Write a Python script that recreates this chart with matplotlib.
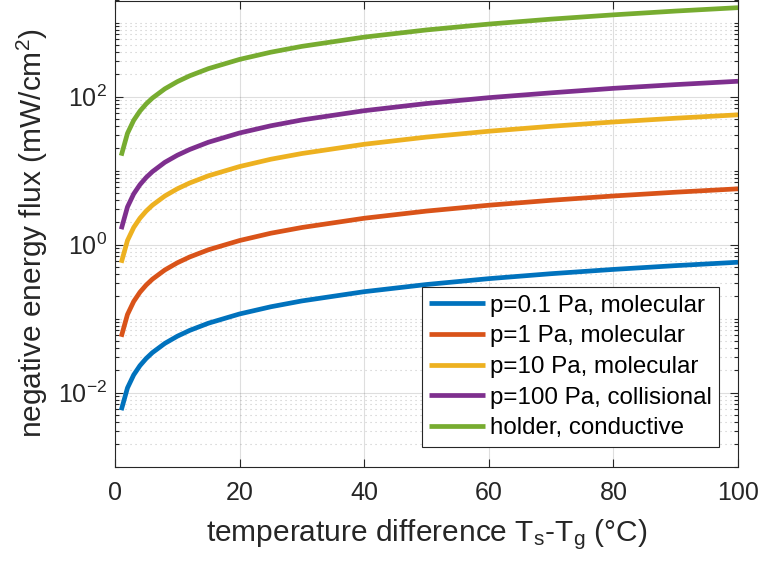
import numpy as np
import matplotlib
matplotlib.use('Agg')
import matplotlib.pyplot as plt
from matplotlib.ticker import FixedLocator, NullFormatter

plt.rcParams['font.family'] = ['Liberation Sans', 'DejaVu Sans']
plt.rcParams['mathtext.fontset'] = 'custom'
plt.rcParams['mathtext.rm'] = 'Liberation Sans'
plt.rcParams['mathtext.it'] = 'Liberation Sans:italic'
plt.rcParams['mathtext.default'] = 'regular'

# temperature difference Ts-Tg (°C)
dT = [1, 2, 3, 4, 5, 6, 8, 10, 12, 15, 20, 25, 30, 40, 50, 60, 70, 80, 90, 100]

# negative energy flux (mW/cm^2)
flux_01pa = [0.0058, 0.0116, 0.0174, 0.0232, 0.029, 0.0348, 0.0464, 0.058, 0.0696, 0.087,
             0.116, 0.145, 0.174, 0.232, 0.29, 0.348, 0.406, 0.464, 0.522, 0.58]
flux_1pa = [0.057, 0.114, 0.171, 0.228, 0.285, 0.342, 0.456, 0.57, 0.684, 0.855,
            1.14, 1.43, 1.71, 2.28, 2.85, 3.42, 3.99, 4.56, 5.13, 5.7]
flux_10pa = [0.57, 1.14, 1.71, 2.28, 2.85, 3.42, 4.56, 5.7, 6.84, 8.55,
             11.4, 14.3, 17.1, 22.8, 28.5, 34.2, 39.9, 45.6, 51.3, 57.0]
flux_100pa = [1.62, 3.24, 4.86, 6.48, 8.1, 9.72, 13.0, 16.2, 19.4, 24.3,
              32.4, 40.5, 48.6, 64.8, 81.0, 97.2, 113, 130, 146, 162]
flux_holder = [16, 32, 48, 64, 80, 96, 128, 160, 192, 240,
               320, 400, 480, 640, 800, 960, 1120, 1280, 1440, 1600]

labels = ['p=0.1 Pa, molecular', 'p=1 Pa, molecular', 'p=10 Pa, molecular',
          'p=100 Pa, collisional', 'holder, conductive']
series = [flux_01pa, flux_1pa, flux_10pa, flux_100pa, flux_holder]
colors = ['#0072BD', '#D95319', '#EDB120', '#7E2F8E', '#77AC30']

txt = '#262626'

fig = plt.figure(figsize=(7.6, 5.69), dpi=100, facecolor='w')
ax = fig.add_axes([115/760, 1 - 466.7/569, 623/760, 466.2/569])

for y, c, lab in zip(series, colors, labels):
    ax.plot(dT, y, color=c, lw=3.4, label=lab, solid_capstyle='butt')

ax.set_yscale('log')
ax.set_xlim(0, 100)
ax.set_ylim(1e-3, 2e3)
ax.set_xticks([0, 20, 40, 60, 80, 100])

# majors only every other decade, the rest as minor ticks
ax.yaxis.set_major_locator(FixedLocator([1e-2, 1e0, 1e2]))
ax.set_yticklabels(['$10^{-2}$', '$10^{0}$', '$10^{2}$'])
minors = [m * 10.0**e for e in range(-3, 4) for m in range(1, 10)
          if not (m == 1 and e in (-2, 0, 2))]
ax.yaxis.set_minor_locator(FixedLocator(minors))
ax.yaxis.set_minor_formatter(NullFormatter())

ax.grid(True, which='major', color='#262626', alpha=0.15, lw=0.8)
ax.grid(True, which='minor', axis='y', color='#262626', alpha=0.25, lw=0.8,
        linestyle=(0, (1, 3.5)))
ax.set_axisbelow(True)

ax.tick_params(which='both', direction='in', top=True, right=True,
               colors=txt, labelsize=18, width=0.8)
ax.tick_params(which='major', length=6)
ax.tick_params(which='minor', length=3)
ax.tick_params(axis='x', pad=10)
ax.tick_params(axis='y', pad=6)
for s in ax.spines.values():
    s.set_color(txt)
    s.set_linewidth(0.8)

ax.set_xlabel('temperature difference T$_s$-T$_g$ (°C)', fontsize=21.5, color=txt,
              labelpad=9)
ax.set_ylabel('negative energy flux (mW/cm$^2$)', fontsize=21.5, color=txt)
ax.yaxis.set_label_coords(-0.104, 0.5)

leg = ax.legend(loc='lower right', bbox_to_anchor=(1 - 19/623, 20/466),
                borderaxespad=0, fontsize=17.4, handlelength=2.3, handletextpad=0.2,
                labelspacing=0.36, borderpad=0.3, fancybox=False, framealpha=1)
leg.get_frame().set_edgecolor(txt)
leg.get_frame().set_linewidth(0.8)
for t in leg.get_texts():
    t.set_color('k')

fig.savefig('out.png', dpi=100)
